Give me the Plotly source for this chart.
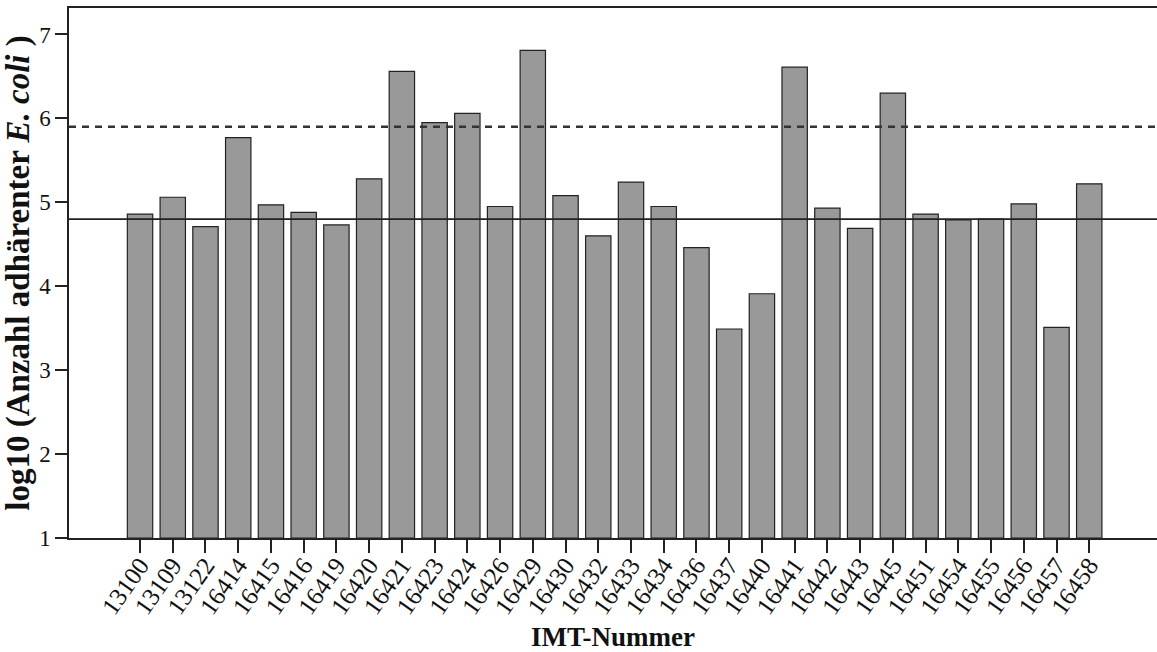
import plotly.graph_objects as go

# IMT strain numbers and log10 counts of adherent E. coli
strains = ["13100", "13109", "13122", "16414", "16415", "16416", "16419", "16420",
           "16421", "16423", "16424", "16426", "16429", "16430", "16432", "16433",
           "16434", "16436", "16437", "16440", "16441", "16442", "16443", "16445",
           "16451", "16454", "16455", "16456", "16457", "16458"]
log_counts = [4.86, 5.06, 4.71, 5.77, 4.97, 4.88, 4.73, 5.28,
              6.56, 5.95, 6.06, 4.95, 6.81, 5.08, 4.60, 5.24,
              4.95, 4.46, 3.49, 3.91, 6.61, 4.93, 4.69, 6.30,
              4.86, 4.79, 4.80, 4.98, 3.51, 5.22]

# reference levels
mean_level = 4.80
upper_level = 5.90

y_ticks = [1, 2, 3, 4, 5, 6, 7]

FONT = "Liberation Serif"
AX = "#222222"

fig = go.Figure()
fig.add_trace(go.Bar(
    x=strains, y=[v - 1 for v in log_counts], base=1,
    width=0.775,
    marker=dict(color="#999999", line=dict(color=AX, width=1.2)),
    hoverinfo="skip",
))

fig.add_shape(type="line", xref="paper", x0=0, x1=1, yref="y",
              y0=mean_level, y1=mean_level, line=dict(color=AX, width=1.6))
fig.add_shape(type="line", xref="paper", x0=0, x1=1, yref="y",
              y0=upper_level, y1=upper_level,
              line=dict(color="#333333", width=2.4, dash="7px,6px"))

fig.update_layout(
    width=1157, height=652,
    margin=dict(l=69, r=0, t=8, b=114),
    paper_bgcolor="white", plot_bgcolor="white",
    showlegend=False,
    font=dict(family=FONT, color="#111111"),
    xaxis=dict(
        type="category", range=[-2.17, 31.07], automargin=False,
        showline=True, linecolor=AX, linewidth=1.5, mirror=True,
        ticks="outside", ticklen=13, tickwidth=1.5, tickcolor=AX,
        ticklabelstandoff=-12,
        tickangle=-55, tickfont=dict(family=FONT, size=25, color="#111111"),
        showgrid=False, zeroline=False,
        title=dict(text="<b>IMT-Nummer</b>", font=dict(family=FONT, size=27),
                   standoff=18),
    ),
    yaxis=dict(
        range=[1, 7.315], tickvals=y_ticks, automargin=False,
        showline=True, linecolor=AX, linewidth=1.5,
        ticks="outside", ticklen=12, tickwidth=1.5, tickcolor=AX,
        tickfont=dict(family=FONT, size=23, color="#111111"),
        showgrid=False, zeroline=False,
        title=dict(text="<b>log10 (Anzahl adhärenter <i>E. coli</i> )</b>",
                   font=dict(family=FONT, size=33), standoff=6),
    ),
)

fig.write_html("out.html")
